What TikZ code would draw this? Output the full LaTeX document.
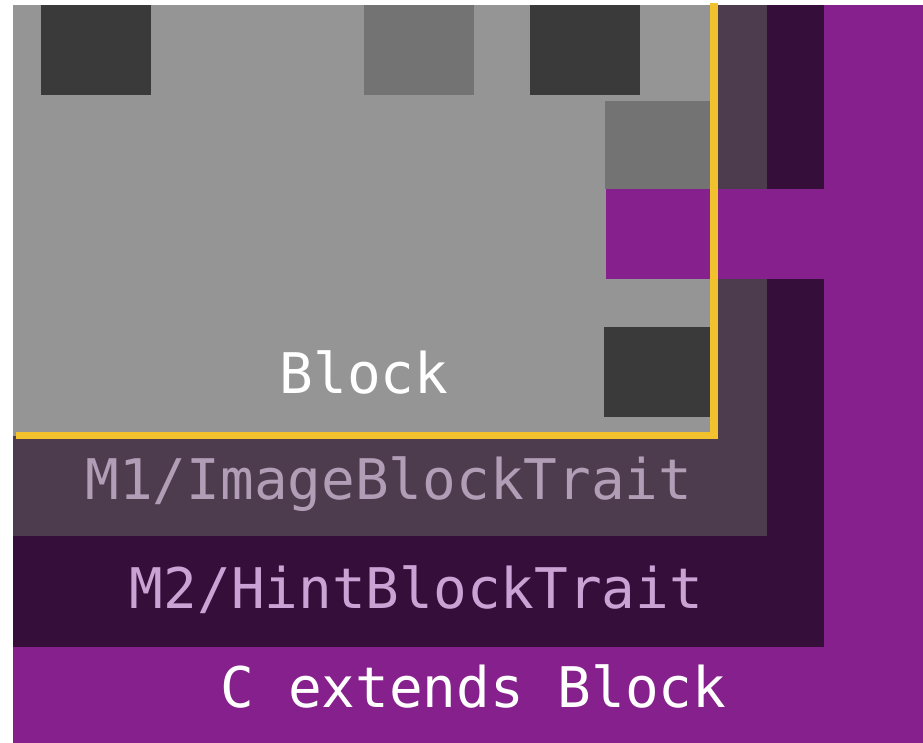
\documentclass[tikz,border=0pt]{standalone}
\usepackage{fontspec}
\setmonofont{DejaVu Sans Mono}
\definecolor{blockgray}{HTML}{959595}
\definecolor{tiledark}{HTML}{3A3A3A}
\definecolor{tilemid}{HTML}{737373}
\definecolor{mone}{HTML}{4D3C4E}
\definecolor{mtwo}{HTML}{350E3A}
\definecolor{cpurple}{HTML}{86208C}
\definecolor{outline}{HTML}{F2C12E}
\definecolor{monetext}{HTML}{B19DB6}
\definecolor{mtwotext}{HTML}{CAA3D4}
\tikzset{
  layerlabel/.style={anchor=base, inner sep=0pt, font=\ttfamily\fontsize{56}{56}\selectfont},
  tile/.style={fill=#1, draw=none},
  blockedge/.style={draw=outline, line width=7.5pt, line cap=butt, line join=miter}
}
\begin{document}
\begin{tikzpicture}[x=1pt, y=-1pt]
  \useasboundingbox (0,0) rectangle (923,743);
  \fill[white] (0,0) rectangle (923,743);
  % nested layers, outermost first
  \fill[cpurple] (13,5) rectangle (923,743);
  \fill[mtwo] (13,5) rectangle (824,647);
  \fill[mone] (13,5) rectangle (767,536);
  \fill[blockgray] (13,5) rectangle (714,435.5);
  % tiles inside the block
  \fill[tile=tiledark] (41,5) rectangle (151,95);
  \fill[tile=tilemid] (364,5) rectangle (474,95);
  \fill[tile=tiledark] (530,5) rectangle (640,95);
  \fill[tile=tilemid] (605,101) rectangle (714,189);
  \fill[tile=tiledark] (604,327) rectangle (714,417);
  % band reaching out through the layers
  \fill[cpurple] (606,189) rectangle (923,279);
  % block outline
  \draw[blockedge] (714,3) -- (714,435.5) -- (16,435.5);
  % labels
  \node[layerlabel, text=white] (block) at (364,393) {Block};
  \node[layerlabel, text=monetext] (mone) at (389,499) {M1/ImageBlockTrait};
  \node[layerlabel, text=mtwotext] (mtwo) at (416.5,608) {M2/HintBlockTrait};
  \node[layerlabel, text=white] (cext) at (473.5,707) {C extends Block};
\end{tikzpicture}
\end{document}
